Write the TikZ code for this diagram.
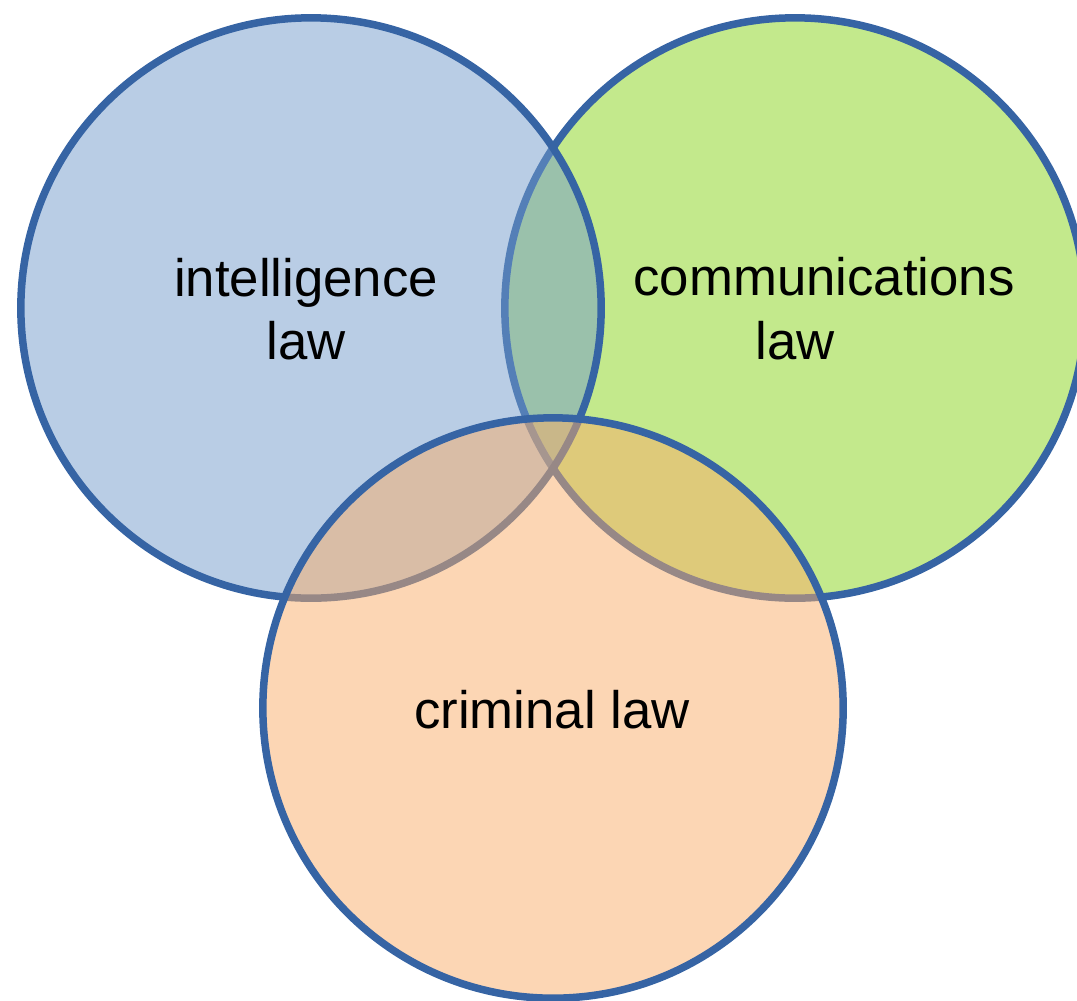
\documentclass[tikz,border=0pt]{standalone}
\usepackage{fontspec}
\setmainfont{Liberation Sans}
\usepackage{tikz}

\definecolor{lawblue}{RGB}{115,155,203}
\definecolor{lawgreen}{RGB}{135,211,25}
\definecolor{laworange}{RGB}{249,173,105}
\definecolor{rimblue}{RGB}{54,100,164}

\begin{document}
\begin{tikzpicture}
  [x=0.01cm,y=-0.01cm,every node/.style={inner sep=0pt}]

  \tikzstyle{venn} = [circle, draw=rimblue, line width=0.075cm, fill opacity=0.5, minimum size=5.8cm]
  \tikzstyle{label} = [font=\fontsize{15}{18}\selectfont, align=center]

  \useasboundingbox (0,0) rectangle (1077,1000);

  % green first, blue over it, orange on top
  \node[venn, fill=lawgreen]  (comm)  at (795,308) {};
  \node[venn, fill=lawblue]   (intel) at (311,308) {};
  \node[venn, fill=laworange] (crim)  at (553,708) {};

  \node[label] (intellabel) at (306,309) {intelligence\\law};
  \node[label] (commtop) at (824,277) {communications};
  \node[label, anchor=base] (commlaw) at ([yshift=-0.64cm]commtop.base -| comm) {law};
  \node[label] (crimlabel) at (552,710) {criminal law};
\end{tikzpicture}
\end{document}
